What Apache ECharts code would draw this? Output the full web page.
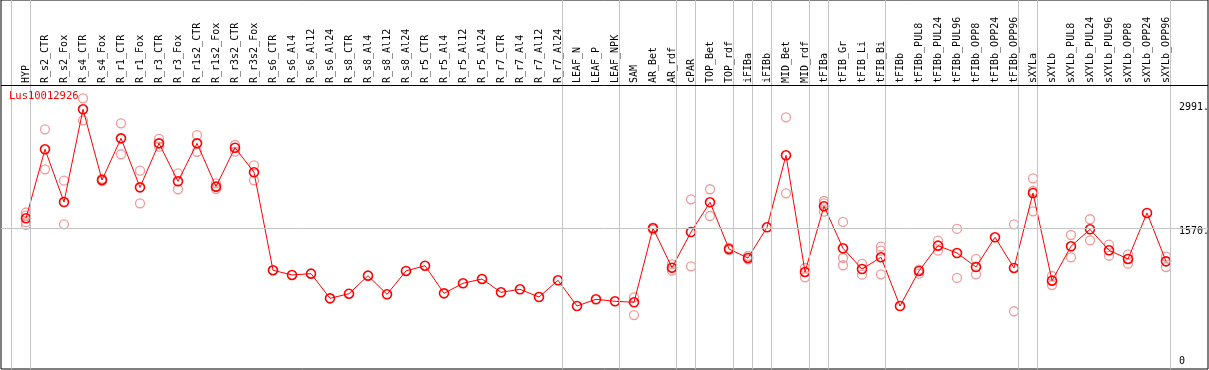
<!DOCTYPE html>
<html>
<head>
<meta charset="utf-8">
<script src="https://cdn.jsdelivr.net/npm/echarts@6/dist/echarts.min.js"></script>
<style>html,body{margin:0;padding:0;background:#fff}#c{width:1209px;height:370px}</style>
</head>
<body>
<div id="c"></div>
<script>
const seriesName = 'Lus10012926';
const categories = ['HYP','R_s2_CTR','R_s2_Fox','R_s4_CTR','R_s4_Fox','R_r1_CTR','R_r1_Fox','R_r3_CTR','R_r3_Fox','R_r1s2_CTR','R_r1s2_Fox','R_r3s2_CTR','R_r3s2_Fox','R_s6_CTR','R_s6_Al4','R_s6_Al12','R_s6_Al24','R_s8_CTR','R_s8_Al4','R_s8_Al12','R_s8_Al24','R_r5_CTR','R_r5_Al4','R_r5_Al12','R_r5_Al24','R_r7_CTR','R_r7_Al4','R_r7_Al12','R_r7_Al24','LEAF_N','LEAF_P','LEAF_NPK','SAM','AR_Bet','AR_rdf','cPAR','TOP_Bet','TOP_rdf','iFIBa','iFIBb','MID_Bet','MID_rdf','tFIBa','tFIB_Gr','tFIB_Li','tFIB_Bi','tFIBb','tFIBb_PUL8','tFIBb_PUL24','tFIBb_PUL96','tFIBb_OPP8','tFIBb_OPP24','tFIBb_OPP96','sXYLa','sXYLb','sXYLb_PUL8','sXYLb_PUL24','sXYLb_PUL96','sXYLb_OPP8','sXYLb_OPP24','sXYLb_OPP96'];
const means = [1684,2473,1870,2930,2122,2598,2038,2541,2107,2541,2046,2491,2210,1090,1036,1051,769,822,1028,815,1082,1142,826,941,990,838,872,784,975,681,758,735,724,1570,1119,1527,1867,1333,1230,1581,2404,1070,1821,1341,1104,1238,681,1082,1371,1287,1127,1467,1116,1973,971,1364,1558,1318,1219,1745,1192];
const replicates = [
  [1750,1715,1640,1610],[2701,2244],[2114,1615],[3056,2804],[2135,2110],[2770,2416],[2228,1855],[2591,2503],[2198,2016],[2636,2445],
  [2084,2019],[2522,2446],[2290,2118],[],[],[],[],[],[],[],
  [],[],[],[],[],[],[],[],[],[],
  [],[],[781,578],[1578,1555],[1158,1085],[1901,1135],[2016,1710],[1345,1320],[1253,1215],[],
  [2838,1970],[1116,1009],[1882,1855,1760],[1642,1230,1147],[1162,1039],[1360,1314,1044],[],[1097,1051],[1428,1314],[1562,1002],
  [1219,1044],[],[1615,621],[2141,1996,1764],[1024,921],[1493,1238],[1673,1432],[1382,1256],[1272,1165],[],
  [1245,1127]
];
const yTickValues = [0, 1570, 2991];
const groupLastIndex = [-1, 0, 28, 31, 34, 35, 37, 38, 39, 41, 42, 45, 52, 53, 60];

// layout
const Y_MIN = -39, Y_MAX = 3208;
const PLOT_TOP = 85, PLOT_H = 284, FRAME_H = 369;
const Y_MAX_FRAME = Y_MIN + (Y_MAX - Y_MIN) * FRAME_H / PLOT_H;
const STEP = 19, FIRST_X = 26, FRAME_LEFT = 1, FRAME_W = 1207;
const X_MIN_FRAME = -(FIRST_X - FRAME_LEFT) / STEP;
const X_MAX_FRAME = X_MIN_FRAME + FRAME_W / STEP;
const SEP_OFFSET = 4.5 / STEP;

const FONT = 'DejaVu Sans Mono';

const repData = [];
replicates.forEach((arr, i) => arr.forEach(v => repData.push([i, v])));

const chart = echarts.init(document.getElementById('c'), null, {renderer: 'canvas'});
chart.setOption({
  animation: false,
  backgroundColor: '#fff',
  textStyle: {fontFamily: FONT},
  title: {
    text: seriesName, left: 9, top: 91, padding: 0,
    textStyle: {color: '#ff0000', fontSize: 10.5, fontWeight: 'normal', fontFamily: FONT}
  },
  grid: [
    {left: FRAME_LEFT, top: 0, width: FRAME_W, height: FRAME_H, show: true, borderColor: '#000', borderWidth: 1, backgroundColor: 'rgba(0,0,0,0)', outerBoundsMode: 'none', containLabel: false},
    {left: FIRST_X - STEP / 2, top: PLOT_TOP, width: STEP * categories.length, height: PLOT_H, outerBoundsMode: 'none', containLabel: false}
  ],
  xAxis: [
    {gridIndex: 0, type: 'value', min: X_MIN_FRAME, max: X_MAX_FRAME, show: false},
    {gridIndex: 1, type: 'category', data: categories, position: 'top', boundaryGap: true,
     axisLine: {show: false}, axisTick: {show: false}, splitLine: {show: false},
     axisLabel: {rotate: 90, margin: 2, interval: 0, fontSize: 10, color: '#000', fontFamily: FONT}}
  ],
  yAxis: [
    {gridIndex: 0, type: 'value', min: Y_MIN, max: Y_MAX_FRAME, show: false},
    {gridIndex: 1, type: 'value', min: Y_MIN, max: Y_MAX, position: 'right',
     axisLine: {show: false}, axisTick: {show: false}, splitLine: {show: false},
     axisLabel: {
       customValues: yTickValues, margin: 3.5, fontSize: 10, color: '#000', fontFamily: FONT,
       formatter: v => v === 0 ? '{z|0}' : '{d|' + v + '.}',
       rich: {
         d: {padding: [7, 0, 0, 0], fontSize: 10, fontFamily: FONT, color: '#000'},
         z: {padding: [0, 0, 8, 0], fontSize: 10, fontFamily: FONT, color: '#000'}
       }
     }}
  ],
  series: [
    {
      type: 'line', xAxisIndex: 0, yAxisIndex: 0, data: [], silent: true, z: 1,
      markLine: {
        silent: true, symbol: 'none', animation: false, label: {show: false},
        data: [
          ...groupLastIndex.map(i => ({xAxis: i + SEP_OFFSET, lineStyle: {color: '#c4c4c4', width: 1, type: 'solid'}})),
          {yAxis: 1570, lineStyle: {color: '#c4c4c4', width: 1, type: 'solid'}},
          {yAxis: Y_MAX, lineStyle: {color: '#000', width: 1, type: 'solid'}}
        ]
      }
    },
    {
      type: 'scatter', xAxisIndex: 1, yAxisIndex: 1, data: repData, z: 3,
      symbol: 'circle', symbolSize: 9,
      itemStyle: {color: 'rgba(0,0,0,0)', borderColor: '#f09a9a', borderWidth: 1.3, opacity: 1}
    },
    {
      type: 'line', name: seriesName, xAxisIndex: 1, yAxisIndex: 1, data: means, z: 4,
      symbol: 'circle', symbolSize: 9, showSymbol: true, showAllSymbol: true,
      lineStyle: {color: '#ff0000', width: 1},
      itemStyle: {color: 'rgba(0,0,0,0)', borderColor: '#ff0000', borderWidth: 1.6}
    }
  ]
});
</script>
</body>
</html>
